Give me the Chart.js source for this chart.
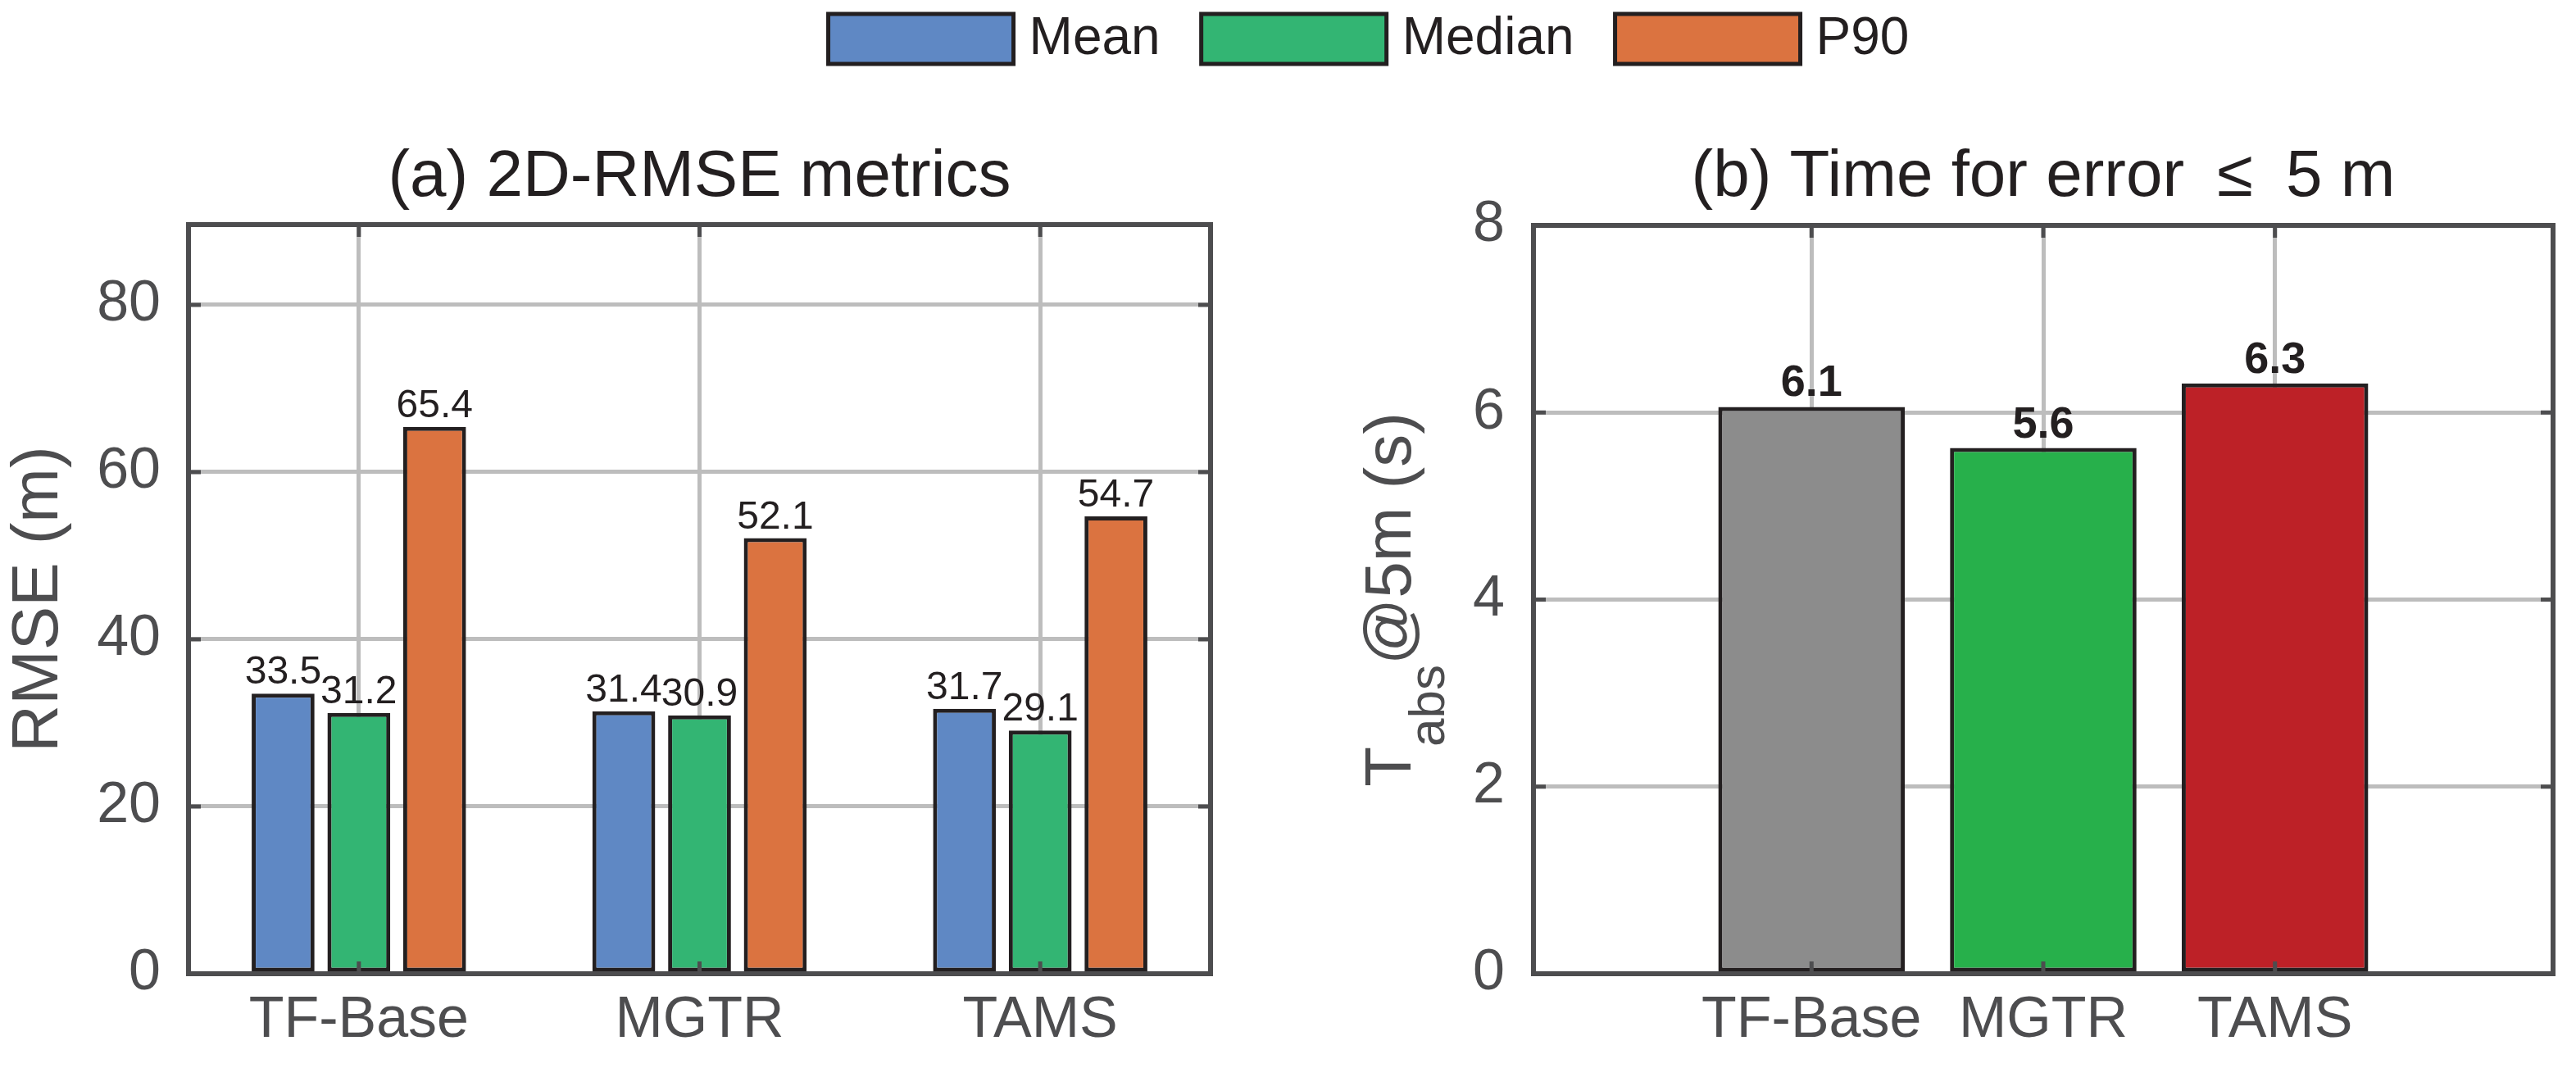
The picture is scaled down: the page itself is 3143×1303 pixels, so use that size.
<!DOCTYPE html>
<html>
<head>
<meta charset="utf-8">
<script src="https://cdn.jsdelivr.net/npm/chart.js@4.4.1/dist/chart.umd.min.js"></script>
<style>
  html, body { margin: 0; padding: 0; background: #fff; overflow: hidden; }
  #wrap { position: relative; width: 3143px; height: 1303px; }
  #rmseChart { position: absolute; left: 0; top: 0; }
  #timeChart { position: absolute; left: 1560px; top: 0; }
</style>
</head>
<body>
<div id="wrap">
  <canvas id="rmseChart" width="3143" height="1303"></canvas>
  <canvas id="timeChart" width="1583" height="1303"></canvas>
</div>
<script>
// data
var methods = ['TF-Base', 'MGTR', 'TAMS'];
var meanRmse = [33.5, 31.4, 31.7];
var medianRmse = [31.2, 30.9, 29.1];
var p90Rmse = [65.4, 52.1, 54.7];
var rmseTicks = [0, 20, 40, 60, 80];
var timeAt5m = [6.06, 5.62, 6.31];
var timeTicks = [0, 2, 4, 6, 8];

var INK = '#231F20';
var AXIS = '#4D4D4F';
var GRID = '#BDBDBD';
var FONT = "'Liberation Sans', Arial, Helvetica, sans-serif";
Chart.defaults.font.family = FONT;

// matlab-style box with inward ticks, drawn over the bars
var axesBox = {
  id: 'axesBox',
  afterDatasetsDraw: function (chart) {
    var a = chart.chartArea, ctx = chart.ctx, tl = 15;
    var xs = chart.scales.x, ys = chart.scales.y;
    ctx.save();
    ctx.strokeStyle = AXIS;
    ctx.lineWidth = 5;
    ctx.beginPath();
    xs.ticks.forEach(function (t, i) {
      var px = xs.getPixelForTick(i);
      ctx.moveTo(px, a.bottom); ctx.lineTo(px, a.bottom - tl);
      ctx.moveTo(px, a.top); ctx.lineTo(px, a.top + tl);
    });
    ys.ticks.forEach(function (t, i) {
      var py = ys.getPixelForTick(i);
      ctx.moveTo(a.left, py); ctx.lineTo(a.left + tl, py);
      ctx.moveTo(a.right, py); ctx.lineTo(a.right - tl, py);
    });
    ctx.stroke();
    ctx.lineWidth = 6;
    ctx.strokeRect(a.left, a.top, a.right - a.left, a.bottom - a.top);
    ctx.restore();
  }
};

var valueLabels = {
  id: 'valueLabels',
  afterDatasetsDraw: function (chart, args, opts) {
    var ctx = chart.ctx;
    ctx.save();
    ctx.font = opts.font;
    ctx.fillStyle = INK;
    ctx.textAlign = 'center';
    ctx.textBaseline = 'alphabetic';
    chart.data.datasets.forEach(function (ds, di) {
      chart.getDatasetMeta(di).data.forEach(function (bar, i) {
        var v = ds.data[i];
        if (typeof v === 'object') v = v.y;
        ctx.fillText(v.toFixed(1), bar.x, bar.y - opts.gap);
      });
    });
    ctx.restore();
  }
};

// shared legend across the top of the page
var topLegend = {
  id: 'topLegend',
  afterDraw: function (chart, args, opts) {
    var ctx = chart.ctx;
    var boxW = 226, boxH = 61, gapText = 19, gapItem = 50;
    ctx.save();
    ctx.font = '64px ' + FONT;
    var items = chart.data.datasets.map(function (ds) {
      return { label: ds.label, color: ds.backgroundColor, w: ctx.measureText(ds.label).width };
    });
    var total = gapItem * (items.length - 1);
    items.forEach(function (it) { total += boxW + gapText + it.w; });
    var x = opts.centerX - total / 2;
    items.forEach(function (it) {
      ctx.fillStyle = it.color;
      ctx.fillRect(x, opts.top, boxW, boxH);
      ctx.lineWidth = 5;
      ctx.strokeStyle = INK;
      ctx.strokeRect(x, opts.top, boxW, boxH);
      ctx.fillStyle = INK;
      ctx.textAlign = 'left';
      ctx.textBaseline = 'middle';
      ctx.fillText(it.label, x + boxW + gapText, opts.top + boxH / 2 + 1);
      x += boxW + gapText + it.w + gapItem;
    });
    ctx.restore();
  }
};

// y title with subscript for panel (b)
var tabsTitle = {
  id: 'tabsTitle',
  afterDraw: function (chart, args, opts) {
    var ctx = chart.ctx;
    var cy = (chart.chartArea.top + chart.chartArea.bottom) / 2;
    var main = '80px ' + FONT, sub = '62px ' + FONT;
    ctx.save();
    ctx.fillStyle = AXIS;
    ctx.font = main;
    var wT = ctx.measureText('T').width;
    var wRest = ctx.measureText('@5m (s)').width;
    ctx.font = sub;
    var wSub = ctx.measureText('abs').width;
    var x = -(wT + wSub + wRest) / 2;
    ctx.translate(opts.x, cy);
    ctx.rotate(-Math.PI / 2);
    ctx.textAlign = 'left';
    ctx.textBaseline = 'alphabetic';
    ctx.font = main; ctx.fillText('T', x, 0); x += wT;
    ctx.font = sub; ctx.fillText('abs', x, 41); x += wSub;
    ctx.font = main; ctx.fillText('@5m (s)', x, 0);
    ctx.restore();
  }
};

var gridOpts = { offset: false, color: GRID, lineWidth: 5, drawTicks: false };

new Chart(document.getElementById('rmseChart'), {
  type: 'bar',
  data: {
    labels: methods,
    datasets: [
      { label: 'Mean', data: meanRmse, backgroundColor: '#5F88C4' },
      { label: 'Median', data: medianRmse, backgroundColor: '#33B573' },
      { label: 'P90', data: p90Rmse, backgroundColor: '#DB7340' }
    ]
  },
  options: {
    responsive: false,
    animation: false,
    devicePixelRatio: 1,
    layout: { padding: { left: 0, right: 1666, top: 169, bottom: 0 } },
    datasets: {
      bar: { borderColor: INK, borderWidth: 5, borderSkipped: false, categoryPercentage: 0.667, barPercentage: 0.83 }
    },
    plugins: {
      legend: { display: false },
      tooltip: { enabled: false },
      title: {
        display: true, fullSize: false, text: '(a) 2D-RMSE metrics', color: INK,
        font: { size: 80, weight: 'normal' }, padding: { top: 0, bottom: 9 }
      },
      valueLabels: { font: '48px ' + FONT, gap: 12 },
      topLegend: { centerX: 1670, top: 17 }
    },
    scales: {
      x: {
        grid: gridOpts,
        border: { display: false },
        ticks: { color: AXIS, font: { size: 70 }, padding: 16 },
        afterFit: function (s) { s.height = 115; }
      },
      y: {
        min: 0, max: 89.6,
        afterBuildTicks: function (s) { s.ticks = rmseTicks.map(function (v) { return { value: v }; }); },
        grid: gridOpts,
        border: { display: false },
        ticks: { color: AXIS, font: { size: 70 }, padding: 34 },
        title: { display: true, text: 'RMSE (m)', color: AXIS, font: { size: 80 }, padding: { top: 0, bottom: 0 } },
        afterFit: function (s) { s.width = 230; }
      }
    }
  },
  plugins: [axesBox, valueLabels, topLegend]
});

new Chart(document.getElementById('timeChart'), {
  type: 'bar',
  data: {
    datasets: [{
      label: 'T_abs@5m',
      data: methods.map(function (m, i) { return { x: i + 1, y: timeAt5m[i] }; }),
      backgroundColor: ['#8C8C8C', '#27B04B', '#BD2127'],
      borderColor: INK,
      borderWidth: 5,
      borderSkipped: false,
      categoryPercentage: 0.805,
      barPercentage: 1
    }]
  },
  options: {
    responsive: false,
    animation: false,
    devicePixelRatio: 1,
    layout: { padding: { left: 0, right: 28, top: 169, bottom: 0 } },
    plugins: {
      legend: { display: false },
      tooltip: { enabled: false },
      title: {
        display: true, fullSize: false, text: '(b) Time for error\u2002\u2264\u20025 m', color: INK,
        font: { size: 80, weight: 'normal' }, padding: { top: 0, bottom: 10 }
      },
      valueLabels: { font: 'bold 54px ' + FONT, gap: 13 },
      tabsTitle: { x: 161 }
    },
    scales: {
      x: {
        type: 'linear', min: -0.2, max: 4.2, offset: false,
        afterBuildTicks: function (s) { s.ticks = methods.map(function (m, i) { return { value: i + 1 }; }); },
        grid: gridOpts,
        border: { display: false },
        ticks: {
          color: AXIS, font: { size: 70 }, padding: 16,
          callback: function (v, i) { return methods[i]; }
        },
        afterFit: function (s) { s.height = 115; }
      },
      y: {
        min: 0, max: 8,
        afterBuildTicks: function (s) { s.ticks = timeTicks.map(function (v) { return { value: v }; }); },
        grid: gridOpts,
        border: { display: false },
        ticks: { color: AXIS, font: { size: 70 }, padding: 35 },
        afterFit: function (s) { s.width = 311; }
      }
    }
  },
  plugins: [axesBox, valueLabels, tabsTitle]
});
</script>
</body>
</html>
